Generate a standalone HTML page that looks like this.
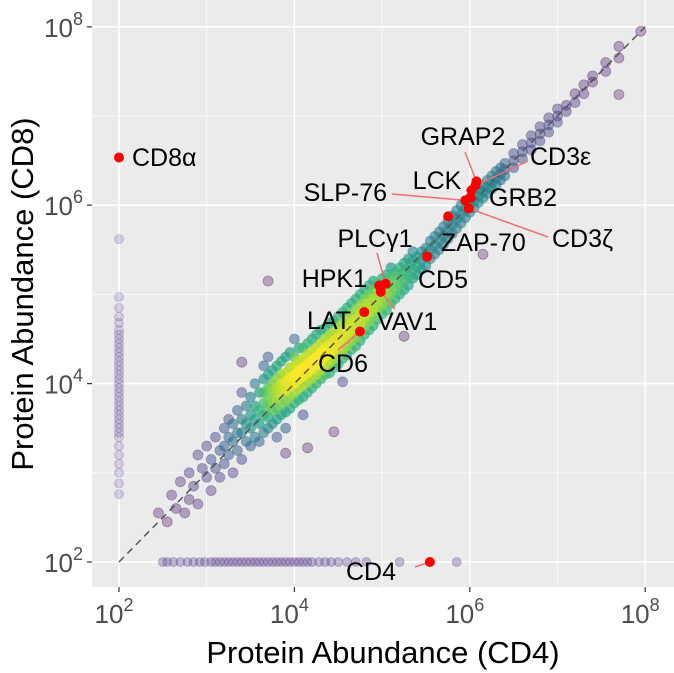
<!DOCTYPE html>
<html><head><meta charset="utf-8"><style>
html,body{margin:0;padding:0;background:#fff;}
svg{display:block;font-family:"Liberation Sans",sans-serif;}
</style></head><body>
<svg id="chart" width="674" height="673" viewBox="0 0 674 673">
<rect x="92" y="0" width="582" height="587" fill="#ebebeb"/>
<g id="grid"></g>
<g id="pts"></g>
<g id="diag"></g>
<g id="hl"></g>
<g id="axes"></g>
<text x="383" y="663" text-anchor="middle" font-size="31" fill="#000">Protein Abundance (CD4)</text>
<text transform="translate(33,294) rotate(-90)" text-anchor="middle" font-size="31" fill="#000">Protein Abundance (CD8)</text>
</svg>
<script>
const tickExps = [2, 4, 6, 8];
const minorExps = [3, 5, 7];
const bandCd4 = [2.45,2.55,2.6,2.65,2.7,2.75,2.8,2.85,2.9,2.95,3.0,3.05,3.1,3.15,3.2,3.25,3.3,3.35,3.4,3.45,3.5,3.55,3.6,
3.65,3.7,3.75,3.8,3.85,3.9,3.95,4.0,4.05,4.1,4.15,4.2,4.25,4.3,4.35,4.4,4.45,4.5,4.55,4.6,4.65,4.7,4.75,4.8,4.85,4.9,4.95,5.0,5.05,5.1,5.15,5.2,5.25,5.3,5.35,5.4,5.45,5.5,5.55,5.6,5.65,5.7,5.75,5.8,5.85,5.9,5.95,6.0,6.05,6.1,6.15,6.2,6.25,6.3,6.35,6.4,6.5,6.6,6.7,6.8,6.9,7.0,7.1,7.2,7.3,7.4,7.55,7.7,7.95];
const bandCd8 = [[2.55],[2.45],[2.75],[2.6],[2.9],[2.55],[3.0,2.7],[2.85],[3.2,2.65],[3.05],[3.3,2.95],[3.15,2.8],[3.4,3.05],[3.25,2.95],[3.5,3.3,3.1],[3.6,3.4,3.2],[3.55,3.35,3.0],[3.7,3.45,3.25],[3.9,3.6,3.45,3.15,4.24],[3.75,3.55,3.35],[3.85,3.65,3.5,3.3],[4.0,3.75,3.6,3.4],[3.9,3.7,3.55,3.35],
[3.45,3.65,3.78,3.9,4.05,4.2],[3.5,3.62,3.75,3.85,3.95,4.1,4.3,5.15],[3.55,3.7,3.8,3.92,4.0,4.15],[3.6,3.72,3.85,3.95,4.05,4.2,3.4],[3.65,3.78,3.9,4.0,4.1,4.25],[3.68,3.8,3.92,4.02,4.12,4.3,3.5,3.22],[3.72,3.85,3.97,4.07,4.18,4.35],[3.78,3.9,4.0,4.1,4.2,4.3,4.5],[3.82,3.95,4.05,4.15,4.25,4.4],[3.85,3.98,4.08,4.18,4.28,4.4,3.65],[3.9,4.02,4.12,4.22,4.32,4.45,3.28],[3.95,4.06,4.16,4.26,4.36,4.5],[4.0,4.1,4.2,4.3,4.4,4.55],[4.05,4.15,4.25,4.35,4.45,4.6],[4.1,4.2,4.3,4.4,4.5,4.62],[4.12,4.24,4.34,4.44,4.54,4.68],[4.18,4.28,4.38,4.48,4.58,4.7,3.46],[4.22,4.32,4.42,4.52,4.62,4.75],[4.28,4.38,4.48,4.58,4.68,4.8,4.02],[4.32,4.42,4.52,4.62,4.72,4.85],[4.38,4.48,4.58,4.68,4.78,4.9],[4.42,4.52,4.62,4.72,4.82,4.95],[4.48,4.58,4.68,4.78,4.88,5.0],[4.55,4.65,4.75,4.85,4.95,5.05],[4.6,4.7,4.8,4.9,5.0,5.1],[4.65,4.75,4.85,4.95,5.05,5.15],[4.72,4.82,4.92,5.02,5.12],[4.78,4.88,4.98,5.08,5.18],[4.82,4.92,5.02,5.12,5.22],[4.9,5.0,5.1,5.2,5.3],[4.95,5.05,5.15,5.25],[5.0,5.1,5.2,5.3],[5.05,5.15,5.25,5.35,4.53],[5.1,5.2,5.3,5.4],[5.18,5.28,5.38,5.48],[5.22,5.32,5.42],[5.28,5.38,5.48],[5.32,5.42,5.52],[5.4,5.5,5.6],[5.45,5.55,5.65],[5.5,5.6,5.7],[5.56,5.66,5.76],[5.62,5.72,5.82],[5.68,5.78,5.88],[5.74,5.84,5.94],[5.8,5.9,6.0],[5.86,5.96,6.05],[5.92,6.0,6.08],[5.97,6.05,6.13],[6.03,6.1,6.18],[6.08,6.15,6.22,5.45],[6.13,6.2,6.28],[6.18,6.25,6.33],[6.23,6.3,6.38],[6.28,6.35,6.42],[6.33,6.4,6.47],[6.42,6.5,6.58],[6.52,6.6,6.68],[6.62,6.7,6.78],[6.72,6.8,6.88],[6.82,6.9,6.98],[6.93,7.0,7.08],[7.05,7.12],[7.15,7.25],[7.25,7.35],[7.38,7.45],[7.5,7.6],[7.65,7.78,7.24],[7.95]];
const cd8OnlyLog = [5.62,4.97,4.85,4.75,4.68,4.6,4.55,4.5,4.45,4.4,4.35,4.3,4.25,4.2,4.15,4.1,4.05,4.0,3.95,3.9,3.85,3.8,3.75,3.7,3.65,3.6,3.55,3.5,3.45,3.4,3.3,3.2,3.1,3.0,2.88,2.76];
const cd4OnlyLog = [2.5,2.55,2.62,2.7,2.78,2.85,2.92,2.98,3.05,3.1,3.15,3.2,3.25,3.3,3.35,3.4,3.45,3.5,3.55,3.6,3.65,3.7,3.75,3.8,3.85,3.9,3.95,4.0,4.05,4.1,4.15,4.2,4.28,4.35,4.42,4.5,4.6,4.7,4.82,5.2,5.85];
const hlNames = ["CD8α","CD4","GRAP2","CD3ε","LCK","GRB2","SLP-76","CD3ζ","ZAP-70","CD5","PLCγ1","HPK1","VAV1","LAT","CD6"];
const hlCd4 = [2.0,5.545,6.076,6.065,6.02,6.008,5.95,5.989,5.753,5.515,5.04,4.966,4.985,4.796,4.747];
const hlCd8 = [6.535,2.0,6.267,6.222,6.167,6.088,6.054,5.964,5.875,5.423,5.12,5.1,5.03,4.802,4.584];

const NS="http://www.w3.org/2000/svg";
const X0=119, XS=87.7, Y0=562, YS=89.2;
function sx(v){return X0+(v-2)*XS;}
function sy(v){return Y0-(v-2)*YS;}
function mk(tag,attrs,parent){const e=document.createElementNS(NS,tag);for(const k in attrs)e.setAttribute(k,attrs[k]);parent.appendChild(e);return e;}
const grid=document.getElementById('grid'), pts=document.getElementById('pts'), axes=document.getElementById('axes'), hl=document.getElementById('hl');

minorExps.forEach(e=>{
  let l=mk('line',{x1:sx(e),x2:sx(e),y1:0,y2:587,stroke:'#fff','stroke-width':0.7},grid);
  
  
  l=mk('line',{x1:92,x2:674,y1:sy(e),y2:sy(e),stroke:'#fff','stroke-width':0.7},grid);
  
  
});
tickExps.forEach(e=>{
  let l=mk('line',{x1:sx(e),x2:sx(e),y1:0,y2:587,stroke:'#fff','stroke-width':1.5},grid);
  
  
  l=mk('line',{x1:92,x2:674,y1:sy(e),y2:sy(e),stroke:'#fff','stroke-width':1.5},grid);
  
  
  let t=mk('line',{x1:sx(e),x2:sx(e),y1:587,y2:592,stroke:'#333','stroke-width':1.2},axes);
  
  
  let tx=mk('text',{x:sx(e)-5,y:623,'text-anchor':'middle','font-size':26,fill:'#4d4d4d'},axes);
  
  
  tx.innerHTML='10<tspan dy="-12" font-size="18">'+e+'</tspan>';
  t=mk('line',{x1:87,x2:92,y1:sy(e),y2:sy(e),stroke:'#333','stroke-width':1.2},axes);
  
  
  let ty=mk('text',{x:83,y:sy(e)+10,'text-anchor':'end','font-size':26,fill:'#4d4d4d'},axes);
  
  
  ty.innerHTML='10<tspan dy="-12" font-size="18">'+e+'</tspan>';
});

const VIR=["#440154","#482878","#3e4989","#31688e","#26828e","#1f9e89","#35b779","#6ece58","#b5de2b","#fde725"];
function hex(c){return [1,3,5].map(i=>parseInt(c.substr(i,2),16));}
function vir(t){t=Math.max(0,Math.min(1,t))*(VIR.length-1);const i=Math.min(VIR.length-2,Math.floor(t)),f=t-i;const a=hex(VIR[i]),b=hex(VIR[i+1]);return 'rgb('+a.map((v,k)=>Math.round(v+(b[k]-v)*f)).join(',')+')';}

const band=[];
bandCd4.forEach((x,i)=>bandCd8[i].forEach(y=>band.push([x,y])));
const dens=band.map(p=>{let s=0;band.forEach(q=>{const d=Math.hypot(p[0]-q[0],p[1]-q[1]);if(d<0.45)s+=1-d/0.45;});return s;});
const dmin=Math.min(...dens), dmax=Math.max(...dens);
const order=band.map((p,i)=>i).sort((a,b)=>dens[a]-dens[b]);
cd8OnlyLog.forEach(y=>{
  const c=mk('circle',{cx:sx(2),cy:sy(y),r:4.5,fill:'#5b3c8c','fill-opacity':0.2,stroke:'#5b3c8c','stroke-opacity':0.28,'stroke-width':0.8},pts);
  
  
});
cd4OnlyLog.forEach(x=>{
  const c=mk('circle',{cx:sx(x),cy:sy(2),r:4.5,fill:'#4b2e83','fill-opacity':0.3,stroke:'#4b2e83','stroke-opacity':0.3,'stroke-width':0.8},pts);
  
  
});
order.forEach(i=>{
  const t=(dens[i]-dmin)/(dmax-dmin);
  const col=vir(Math.pow(t,1.2));
  const c=mk('circle',{cx:sx(band[i][0]),cy:sy(band[i][1]),r:5,fill:col,'fill-opacity':0.3+0.6*t,stroke:col,'stroke-opacity':0.4,'stroke-width':0.8},pts);
  
  
});
const dl=mk('line',{x1:sx(2),y1:sy(2),x2:sx(8),y2:sy(8),stroke:'#555','stroke-width':1.5,'stroke-dasharray':'7,5'},document.getElementById('diag'));



const lab={ "CD8α":[132,166,'start',null], "CD4":[346,580,'start',[415,567]], "GRAP2":[463,145,'middle',[465,152]],
 "CD3ε":[530,165,'start',[528,161]], "LCK":[437,189,'middle',[466,190]], "GRB2":[489,206,'start',null],
 "SLP-76":[387,201,'end',[392,194]], "CD3ζ":[552,247,'start',[548,237]], "ZAP-70":[441,251,'start',null],
 "PLCγ1":[375,247,'middle',[377,253]], "CD5":[418,288,'start',[432,262]], "HPK1":[367,287,'end',null],
 "VAV1":[377,330,'start',[395,309]], "LAT":[351,329,'end',null], "CD6":[318,372,'start',[338,350]] };
hlNames.forEach((n,i)=>{
  const px=sx(hlCd4[i]), py=sy(hlCd8[i]); const L=lab[n];
  if(L[3]){const s=mk('line',{x1:px,y1:py,x2:L[3][0],y2:L[3][1],stroke:'#ee6f75','stroke-width':1.5},hl);
    
    }
});
hlNames.forEach((n,i)=>{
  const c=mk('circle',{cx:sx(hlCd4[i]),cy:sy(hlCd8[i]),r:5,fill:'#ff0000'},hl);
  
  
});
hlNames.forEach((n,i)=>{
  const L=lab[n];
  const t=mk('text',{x:L[0],y:L[1],'text-anchor':L[2],'font-size':25,fill:'#000'},hl);
  
  
  t.textContent=n;
});
</script>
</body></html>
